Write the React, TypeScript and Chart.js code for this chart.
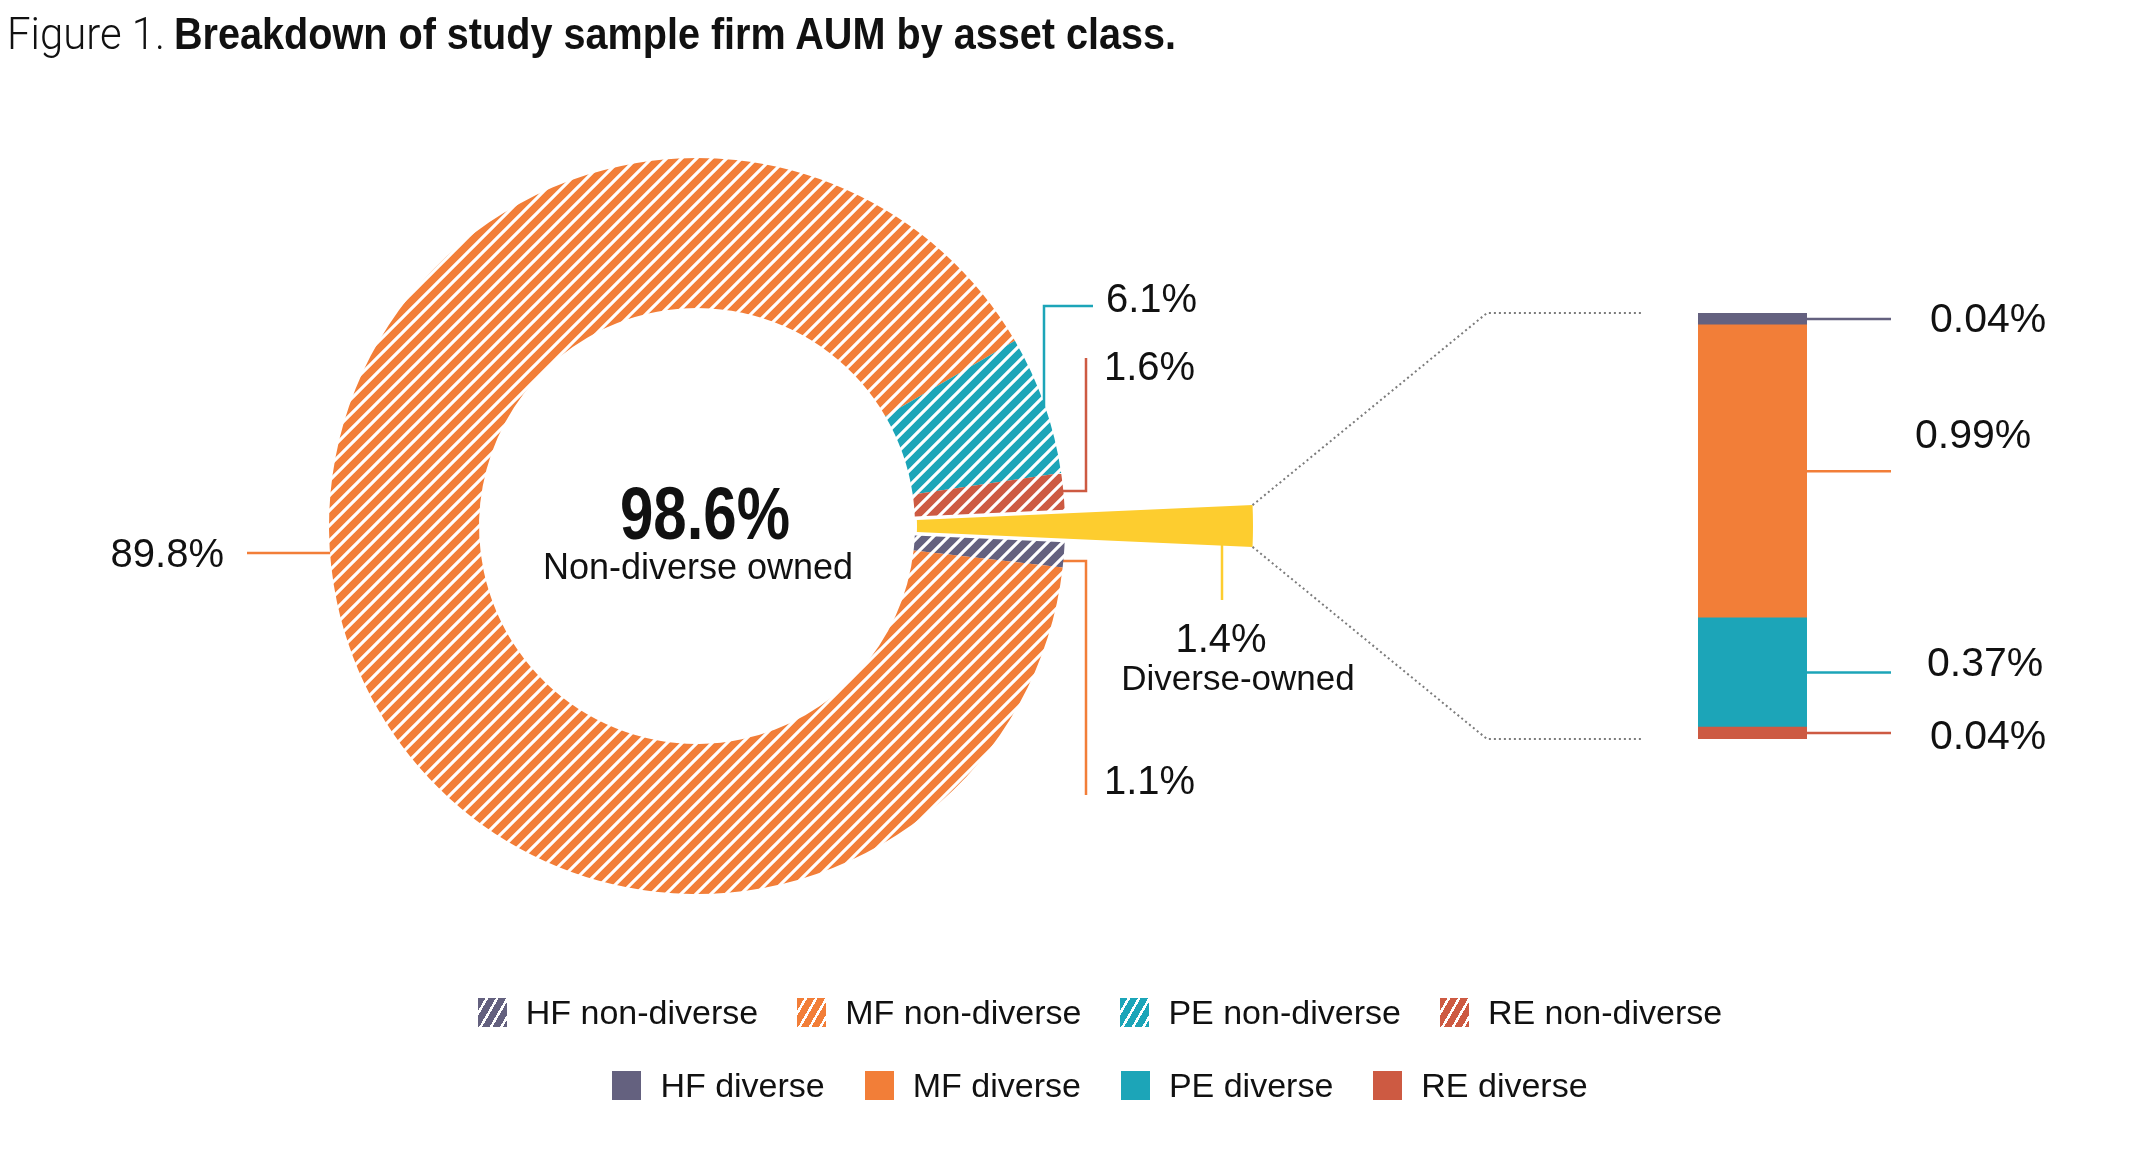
import React, { useEffect, useRef } from "react";
import { Chart, registerables } from "chart.js";
Chart.register(...registerables);

// ---------------- data ----------------
const donutLabels = ["Diverse-owned", "HF non-diverse", "MF non-diverse", "PE non-diverse", "RE non-diverse"];
const donutValues = [1.4, 1.1, 89.8, 6.1, 1.6];
const donutValueLabels = ["1.4%", "1.1%", "89.8%", "6.1%", "1.6%"];
const centerValue = "98.6%";
const centerCaption = "Non-diverse owned";
const diverseCaption = "Diverse-owned";

const barLabels = ["RE diverse", "PE diverse", "MF diverse", "HF diverse"];
const barValues = [0.04, 0.37, 0.99, 0.04];
const barValueLabels = ["0.04%", "0.37%", "0.99%", "0.04%"];

const legendRow1 = ["HF non-diverse", "MF non-diverse", "PE non-diverse", "RE non-diverse"];
const legendRow2 = ["HF diverse", "MF diverse", "PE diverse", "RE diverse"];

const titleLead = "Figure 1.";
const titleMain = "Breakdown of study sample firm AUM by asset class.";

// ---------------- style ----------------
const HF = "#64617f";
const MF = "#f27e38";
const PE = "#1ca5b8";
const RE = "#cd5a42";
const YEL = "#fdcd2f";
const INK = "#111111";
const FONT = "'Liberation Sans', Arial, Helvetica, sans-serif";

const W = 2154, H = 1156;
const CX = 697, CY = 526, OUTER_R = 368, INNER_R = 218;
const EXPLODE = 81, WEDGE_INNER = 139, WEDGE_OUTER = 475;
const BAR_LEFT = 1698, BAR_RIGHT = 1807, BAR_TOP = 313, BAR_BOTTOM = 739;
const BAR_CANVAS_TOP = 280, BAR_CANVAS_H = 490;
const DOT_BEND_X = 1487, DOT_END_X = 1643;

// leader lines & labels for donut slices (parallel to donutValues)
const donutLeaders = [
  { color: YEL, pts: [[1222, 530], [1222, 600]] },
  { color: MF, pts: [[1040, 561], [1086, 561], [1086, 795]] },
  { color: MF, pts: [[247, 553], [345, 553]] },
  { color: PE, pts: [[1093, 306], [1044, 306], [1044, 430]] },
  { color: RE, pts: [[1086, 358], [1086, 491], [1040, 491]] },
];
const donutLabelPos = [
  { x: 1221, y: 638, align: "center" },
  { x: 1104, y: 780, align: "left" },
  { x: 224, y: 553, align: "right" },
  { x: 1106, y: 298, align: "left" },
  { x: 1104, y: 366, align: "left" },
];
const barColors = [RE, PE, MF, HF];
const barLabelX = [1930, 1927, 1915, 1930];
const barLabelDY = [1, -11, -38, -1.5];

function hatch(color: string) {
  const s = 15;
  const c = document.createElement("canvas");
  c.width = s; c.height = s;
  const g = c.getContext("2d")!;
  g.fillStyle = color; g.fillRect(0, 0, s, s);
  g.strokeStyle = "#ffffff"; g.lineWidth = 3.1;
  g.beginPath();
  g.moveTo(-2, s + 2); g.lineTo(s + 2, -2);
  g.moveTo(-s, s); g.lineTo(s, -s);
  g.moveTo(0, 2 * s); g.lineTo(2 * s, 0);
  g.stroke();
  return g.createPattern(c, "repeat")!;
}

function drawText(ctx: CanvasRenderingContext2D, str: string, x: number, yMid: number, size: number, weight: string, align: CanvasTextAlign, scaleX = 1) {
  ctx.save();
  ctx.font = `${weight} ${size}px ${FONT}`;
  ctx.fillStyle = INK;
  ctx.textAlign = align;
  ctx.textBaseline = "alphabetic";
  ctx.translate(x, yMid + size * 0.358);
  ctx.scale(scaleX, 1);
  ctx.fillText(str, 0, 0);
  ctx.restore();
}

const donutPlugin = {
  id: "donutDecor",
  beforeDatasetsDraw(chart: any) {
    const ctx: CanvasRenderingContext2D = chart.ctx;
    const meta = chart.getDatasetMeta(0);
    const arc = meta.data[0];
    const ca = chart.chartArea;
    const cx = (ca.left + ca.right) / 2, cy = (ca.top + ca.bottom) / 2;
    const mid = (arc.startAngle + arc.endAngle) / 2;
    arc.x = cx + Math.cos(mid) * EXPLODE;
    arc.y = cy + Math.sin(mid) * EXPLODE;
    arc.innerRadius = WEDGE_INNER;
    arc.outerRadius = WEDGE_OUTER;
    ctx.save();
    ctx.lineWidth = 2.5;
    donutLeaders.forEach((l) => {
      ctx.strokeStyle = l.color;
      ctx.beginPath();
      l.pts.forEach((p, i) => (i ? ctx.lineTo(p[0], p[1]) : ctx.moveTo(p[0], p[1])));
      ctx.stroke();
    });
    ctx.restore();
  },
  afterDatasetsDraw(chart: any) {
    const ctx: CanvasRenderingContext2D = chart.ctx;
    const arc = chart.getDatasetMeta(0).data[0];
    // dotted connectors from the exploded wedge to the bar
    ctx.save();
    ctx.strokeStyle = "#7b7b7b";
    ctx.lineWidth = 2;
    ctx.setLineDash([2, 3]);
    const corners = [
      [arc.startAngle, BAR_TOP],
      [arc.endAngle, BAR_BOTTOM],
    ];
    corners.forEach(([ang, yEnd]) => {
      ctx.beginPath();
      ctx.moveTo(arc.x + Math.cos(ang) * arc.outerRadius, arc.y + Math.sin(ang) * arc.outerRadius);
      ctx.lineTo(DOT_BEND_X, yEnd);
      ctx.lineTo(DOT_END_X, yEnd);
      ctx.stroke();
    });
    ctx.restore();
    donutValueLabels.forEach((t, i) => {
      const p = donutLabelPos[i];
      drawText(ctx, t, p.x, p.y, 40, "400", p.align as CanvasTextAlign);
    });
    drawText(ctx, diverseCaption, 1238, 677, 35, "400", "center");
    const ca = chart.chartArea;
    const cx = (ca.left + ca.right) / 2;
    drawText(ctx, centerValue, cx + 8, 512, 75, "700", "center", 0.8);
    drawText(ctx, centerCaption, cx + 1, 566, 36, "400", "center");
  },
};

const barPlugin = {
  id: "barDecor",
  afterDatasetsDraw(chart: any) {
    const ctx: CanvasRenderingContext2D = chart.ctx;
    barValues.forEach((_, i) => {
      const el = chart.getDatasetMeta(i).data[0];
      const midY = (el.y + el.base) / 2;
      const right = el.x + el.width / 2;
      ctx.save();
      ctx.strokeStyle = barColors[i];
      ctx.lineWidth = 2.5;
      ctx.beginPath();
      ctx.moveTo(right, midY);
      ctx.lineTo(right + 84, midY);
      ctx.stroke();
      ctx.restore();
      drawText(ctx, barValueLabels[i], barLabelX[i] - BAR_LEFT, midY + barLabelDY[i], 41, "400", "left");
    });
  },
};

function LegendItem({ label, color, hatched }: { label: string; color: string; hatched: boolean }) {
  const bg = hatched
    ? `repeating-linear-gradient(120deg, ${color} 0px, ${color} 6.5px, #ffffff 6.5px, #ffffff 9px)`
    : color;
  return (
    <div style={{ display: "flex", alignItems: "center" }}>
      <span style={{ display: "inline-block", width: 29, height: 29, background: bg, marginRight: 19, flex: "none" }} />
      <span style={{ fontSize: 34, lineHeight: "34px", whiteSpace: "nowrap", color: INK }}>{label}</span>
    </div>
  );
}

export default function App() {
  const donutRef = useRef<HTMLCanvasElement>(null);
  const barRef = useRef<HTMLCanvasElement>(null);

  useEffect(() => {
    const total = donutValues.reduce((a, b) => a + b, 0);
    const diverseDeg = (donutValues[0] / total) * 360;
    const donut = new Chart(donutRef.current!, {
      type: "doughnut",
      data: {
        labels: donutLabels,
        datasets: [
          {
            data: donutValues,
            backgroundColor: [YEL, hatch(HF), hatch(MF), hatch(PE), hatch(RE)],
            borderWidth: 0,
          },
        ],
      },
      options: {
        animation: false,
        responsive: false,
        devicePixelRatio: 1,
        events: [],
        rotation: 90 - diverseDeg / 2,
        radius: OUTER_R,
        cutout: `${(INNER_R / OUTER_R) * 100}%`,
        layout: { padding: { left: 0, top: 0, right: W - 2 * CX, bottom: H - 2 * CY } },
        plugins: { legend: { display: false }, tooltip: { enabled: false }, title: { display: false } },
      } as any,
      plugins: [donutPlugin as any],
    });

    const barTotal = barValues.reduce((a, b) => a + b, 0);
    const bar = new Chart(barRef.current!, {
      type: "bar",
      data: {
        labels: [""],
        datasets: barValues.map((v, i) => ({
          label: barLabels[i],
          data: [v],
          backgroundColor: barColors[i],
          borderWidth: 0,
          barPercentage: 1,
          categoryPercentage: 1,
        })),
      },
      options: {
        animation: false,
        responsive: false,
        devicePixelRatio: 1,
        events: [],
        layout: {
          padding: {
            left: 0,
            right: W - BAR_RIGHT,
            top: BAR_TOP - BAR_CANVAS_TOP,
            bottom: BAR_CANVAS_TOP + BAR_CANVAS_H - BAR_BOTTOM,
          },
        },
        scales: {
          x: { stacked: true, display: false },
          y: { stacked: true, display: false, min: 0, max: barTotal },
        },
        plugins: { legend: { display: false }, tooltip: { enabled: false } },
      } as any,
      plugins: [barPlugin as any],
    });

    return () => {
      donut.destroy();
      bar.destroy();
    };
  }, []);

  const rowColors = [HF, MF, PE, RE];
  return (
    <div style={{ position: "fixed", left: 0, top: 0, width: W, height: H, background: "#ffffff", overflow: "hidden", fontFamily: FONT }}>
      <canvas ref={donutRef} width={W} height={H} style={{ position: "absolute", left: 0, top: 0, width: W, height: H }} />
      <canvas
        ref={barRef}
        width={W - BAR_LEFT}
        height={BAR_CANVAS_H}
        style={{ position: "absolute", left: BAR_LEFT, top: BAR_CANVAS_TOP, width: W - BAR_LEFT, height: BAR_CANVAS_H }}
      />
      <div
        style={{
          position: "absolute",
          left: 7,
          top: 11,
          fontSize: 45,
          lineHeight: "45px",
          whiteSpace: "nowrap",
          color: INK,
          fontFamily: "Roboto, " + FONT,
          fontWeight: 300,
          transform: "scaleX(0.93)",
          transformOrigin: "left top",
        }}
      >
        {titleLead}
      </div>
      <div
        style={{
          position: "absolute",
          left: 174,
          top: 11,
          fontSize: 45,
          lineHeight: "45px",
          whiteSpace: "nowrap",
          color: INK,
          fontWeight: 700,
          transform: "scaleX(0.88)",
          transformOrigin: "left top",
        }}
      >
        {titleMain}
      </div>
      <div style={{ position: "absolute", left: 0, width: 2200, top: 995, display: "flex", justifyContent: "center", gap: 39 }}>
        {legendRow1.map((l, i) => (
          <LegendItem key={l} label={l} color={rowColors[i]} hatched={true} />
        ))}
      </div>
      <div style={{ position: "absolute", left: 0, width: 2200, top: 1068, display: "flex", justifyContent: "center", gap: 40 }}>
        {legendRow2.map((l, i) => (
          <LegendItem key={l} label={l} color={rowColors[i]} hatched={false} />
        ))}
      </div>
    </div>
  );
}
